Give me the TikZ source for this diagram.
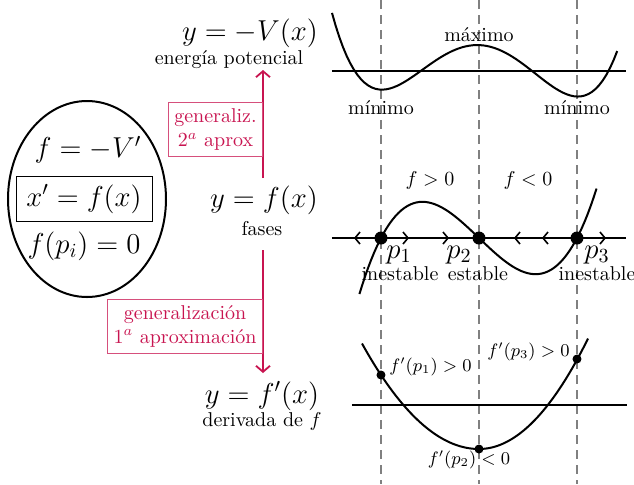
\documentclass[tikz,border=0pt]{standalone}
\usepackage{amsmath}
\usetikzlibrary{arrows.meta,shapes.geometric}
\definecolor{gen}{RGB}{200,20,80}
\begin{document}
\begin{tikzpicture}[x=0.5pt,y=-0.5pt,
  curve/.style={line width=1pt},
  axisline/.style={line width=1pt},
  guide/.style={gray,line width=0.8pt,dash pattern=on 4.5pt off 3pt},
  genarrow/.style={draw=gen,line width=0.9pt,-{Straight Barb[length=3pt,width=7pt]}},
  genbox/.style={draw=gen!75,text=gen,align=center,anchor=east,inner sep=3pt},
  bigmath/.style={font=\Large},
  dot/.style={circle,fill=black,inner sep=0pt,minimum size=6.5pt},
  sdot/.style={circle,fill=black,inner sep=0pt,minimum size=4.5pt},
  deriv/.style={font=\small,inner sep=1pt}]
\useasboundingbox (0,0) rectangle (634,484);

% guide lines
\foreach \gx in {381,479,577} \draw[guide] (\gx,0) -- (\gx,484);

% left ellipse
\node[draw,ellipse,line width=1pt,minimum width=79pt,minimum height=98pt] (ell) at (87,199) {};
\node[bigmath] (fv) at (88,150) {$f=-V'$};
\node[bigmath,draw,inner sep=4pt,minimum width=68pt] (ode) at (84,199) {$x'=f(x)$};
\node[bigmath] (zero) at (84,246) {$f(p_i)=0$};

% left labels
\node[bigmath] (lv) at (250,33) {$y=-V(x)$};
\node (lvt) at (229,60) {energía potencial};
\node[bigmath] (lf) at (264,200) {$y=f(x)$};
\node (lft) at (262,229) {fases};
\node[bigmath] (ld) at (262,396) {$y=f'(x)$};
\node (ldt) at (262,421) {derivada de $f$};

% arrows
\coordinate (a1s) at (263,178);
\coordinate (a1e) at (263,70);
\coordinate (a2s) at (263,250);
\coordinate (a2e) at (263,373);
\draw[genarrow] (a1s) -- (a1e);
\draw[genarrow] (a2s) -- (a2e);
\node[genbox] (g2) at (263,129.5) {generaliz.\\ $2^a$ aprox};
\node[genbox] (g1) at (263,326) {generalización\\ $1^a$ aproximación};

% top plot
\coordinate (t1) at (332,71);
\coordinate (t2) at (626,71);
\draw[axisline] (t1) -- (t2);
\draw[curve] plot[domain=-1.5:1.41,samples=80]
  ({479+98*\x},{71-192*(\x*\x*\x*\x/4-\x*\x/2+0.135-0.018*\x)});
\node (max) at (479,35) {máximo};
\node (min1) at (381,108) {mínimo};
\node (min2) at (577,108) {mínimo};

% middle plot
\coordinate (m1) at (332,238);
\coordinate (m2) at (626,238);
\draw[axisline] (m1) -- (m2);
\draw[curve] plot[domain=-1.22:1.2,samples=80]
  ({479+98*\x},{238-94*(\x*\x*\x-\x)});
\foreach \cx in {408,448,605} \draw[line width=0.8pt] (\cx-5,232) -- (\cx,238) -- (\cx-5,244);
\foreach \cx in {355,515,543} \draw[line width=0.8pt] (\cx+5,232) -- (\cx,238) -- (\cx+5,244);
\node[dot] (p1) at (381,238) {};
\node[dot] (p2) at (479,238) {};
\node[dot] (p3) at (577,238) {};
\node[bigmath] (lp1) at (399,255) {$p_1$};
\node[bigmath] (lp2) at (459,255) {$p_2$};
\node[bigmath] (lp3) at (597,255) {$p_3$};
\node (s1) at (400,274) {inestable};
\node (s2) at (478,274) {estable};
\node (s3) at (597,274) {inestable};
\node (fpos) at (430,180) {$f>0$};
\node (fneg) at (528,180) {$f<0$};

% bottom plot
\coordinate (b1) at (352,405);
\coordinate (b2) at (627,405);
\draw[axisline] (b1) -- (b2);
\draw[curve] plot[domain=362:479,samples=50] (\x,{449-0.0077*(\x-479)*(\x-479)})
  -- plot[domain=479:588,samples=50] (\x,{449-0.0093*(\x-479)*(\x-479)});
\node[sdot] (q1) at (381,375) {};
\node[sdot] (q2) at (479,449) {};
\node[sdot] (q3) at (577,359) {};
\node[deriv,anchor=west] (lq1) at (387,367) {$f'(p_1)>0$};
\node[deriv,anchor=east] (lq3) at (572,352) {$f'(p_3)>0$};
\node[deriv] (lq2) at (469,460) {$f'(p_2)<0$};
\end{tikzpicture}
\end{document}
